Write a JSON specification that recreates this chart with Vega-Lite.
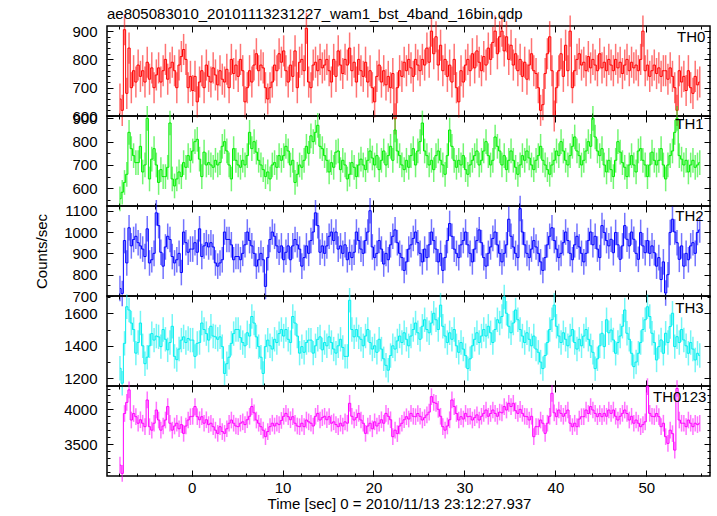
{
"$schema":"https://vega.github.io/schema/vega-lite/v6.json",
"padding":{"left":33,"top":6,"right":5,"bottom":2},
"bounds":"flush",
"spacing":0,
"datasets":{
"err":[{"b":"a","e":55},{"b":"b","e":53},{"b":"c","e":60},{"b":"d","e":75},{"b":"e","e":120}],
"lc":[
{"t":-7.875,"a":660,"b":555,"c":735,"d":1262,"e":3197},
{"t":-7.625,"a":620,"b":583,"c":712,"d":1170,"e":3077},
{"t":-7.375,"a":905,"b":625,"c":960,"d":1415,"e":3940},
{"t":-7.125,"a":680,"b":660,"c":855,"d":1640,"e":4100},
{"t":-6.875,"a":840,"b":840,"c":1020,"d":1620,"e":4280},
{"t":-6.625,"a":700,"b":770,"c":935,"d":1540,"e":3846},
{"t":-6.375,"a":760,"b":740,"c":965,"d":1500,"e":3940},
{"t":-6.125,"a":720,"b":710,"c":980,"d":1355,"e":3894},
{"t":-5.875,"a":780,"b":710,"c":950,"d":1420,"e":3800},
{"t":-5.625,"a":740,"b":780,"c":935,"d":1540,"e":3850},
{"t":-5.375,"a":760,"b":670,"c":920,"d":1400,"e":3800},
{"t":-5.125,"a":720,"b":700,"c":885,"d":1290,"e":3750},
{"t":-4.875,"a":790,"b":900,"c":1015,"d":1330,"e":4135},
{"t":-4.625,"a":730,"b":640,"c":855,"d":1400,"e":3750},
{"t":-4.375,"a":770,"b":725,"c":870,"d":1475,"e":3700},
{"t":-4.125,"a":700,"b":770,"c":900,"d":1435,"e":3800},
{"t":-3.875,"a":745,"b":700,"c":1090,"d":1460,"e":3990},
{"t":-3.625,"a":770,"b":625,"c":1030,"d":1455,"e":3846},
{"t":-3.375,"a":720,"b":680,"c":905,"d":1395,"e":3700},
{"t":-3.125,"a":760,"b":650,"c":840,"d":1500,"e":3760},
{"t":-2.875,"a":800,"b":650,"c":930,"d":1440,"e":3846},
{"t":-2.625,"a":730,"b":690,"c":980,"d":1375,"e":4040},
{"t":-2.375,"a":770,"b":880,"c":965,"d":1420,"e":3800},
{"t":-2.125,"a":790,"b":640,"c":885,"d":1520,"e":3700},
{"t":-1.875,"a":760,"b":610,"c":855,"d":1335,"e":3760},
{"t":-1.625,"a":700,"b":640,"c":870,"d":1315,"e":3800},
{"t":-1.375,"a":780,"b":670,"c":900,"d":1380,"e":3720},
{"t":-1.125,"a":810,"b":650,"c":810,"d":1435,"e":3780},
{"t":-0.875,"a":835,"b":710,"c":1000,"d":1455,"e":3654},
{"t":-0.625,"a":800,"b":690,"c":950,"d":1420,"e":3760},
{"t":-0.375,"a":700,"b":740,"c":905,"d":1445,"e":3846},
{"t":-0.125,"a":740,"b":720,"c":920,"d":1435,"e":3894},
{"t":0.125,"a":690,"b":760,"c":920,"d":1435,"e":3900},
{"t":0.375,"a":740,"b":800,"c":950,"d":1335,"e":4040},
{"t":0.625,"a":650,"b":810,"c":905,"d":1415,"e":3894},
{"t":0.875,"a":720,"b":725,"c":1015,"d":1420,"e":3850},
{"t":1.125,"a":760,"b":650,"c":885,"d":1540,"e":3894},
{"t":1.375,"a":700,"b":755,"c":935,"d":1500,"e":3800},
{"t":1.625,"a":780,"b":700,"c":950,"d":1475,"e":3850},
{"t":1.875,"a":740,"b":710,"c":930,"d":1435,"e":3780},
{"t":2.125,"a":720,"b":700,"c":950,"d":1520,"e":3800},
{"t":2.375,"a":770,"b":690,"c":930,"d":1460,"e":3750},
{"t":2.625,"a":745,"b":720,"c":855,"d":1455,"e":3700},
{"t":2.875,"a":710,"b":700,"c":840,"d":1440,"e":3654},
{"t":3.125,"a":760,"b":710,"c":855,"d":1455,"e":3750},
{"t":3.375,"a":730,"b":780,"c":870,"d":1395,"e":3680},
{"t":3.625,"a":720,"b":800,"c":1000,"d":1230,"e":3654},
{"t":3.875,"a":765,"b":760,"c":965,"d":1290,"e":3720},
{"t":4.125,"a":700,"b":700,"c":965,"d":1330,"e":3800},
{"t":4.375,"a":800,"b":640,"c":940,"d":1415,"e":3846},
{"t":4.625,"a":750,"b":770,"c":870,"d":1475,"e":3800},
{"t":4.875,"a":780,"b":720,"c":885,"d":1500,"e":3760},
{"t":5.125,"a":740,"b":700,"c":885,"d":1500,"e":3750},
{"t":5.375,"a":800,"b":690,"c":870,"d":1450,"e":3800},
{"t":5.625,"a":760,"b":720,"c":900,"d":1420,"e":3820},
{"t":5.875,"a":650,"b":700,"c":940,"d":1400,"e":3780},
{"t":6.125,"a":700,"b":740,"c":1000,"d":1480,"e":3850},
{"t":6.375,"a":760,"b":840,"c":960,"d":1460,"e":3900},
{"t":6.625,"a":720,"b":770,"c":935,"d":1580,"e":4040},
{"t":6.875,"a":780,"b":800,"c":900,"d":1540,"e":3950},
{"t":7.125,"a":820,"b":755,"c":840,"d":1455,"e":3846},
{"t":7.375,"a":760,"b":720,"c":870,"d":1395,"e":3800},
{"t":7.625,"a":780,"b":700,"c":900,"d":1330,"e":3750},
{"t":7.875,"a":770,"b":680,"c":870,"d":1230,"e":3700},
{"t":8.125,"a":700,"b":650,"c":745,"d":1395,"e":3606},
{"t":8.375,"a":660,"b":670,"c":880,"d":1435,"e":3680},
{"t":8.625,"a":700,"b":640,"c":965,"d":1400,"e":3750},
{"t":8.875,"a":720,"b":700,"c":1000,"d":1380,"e":3800},
{"t":9.125,"a":780,"b":710,"c":980,"d":1440,"e":3760},
{"t":9.375,"a":760,"b":690,"c":935,"d":1420,"e":3800},
{"t":9.625,"a":820,"b":740,"c":905,"d":1475,"e":3780},
{"t":9.875,"a":790,"b":720,"c":935,"d":1500,"e":3840},
{"t":10.125,"a":830,"b":740,"c":870,"d":1460,"e":3900},
{"t":10.375,"a":760,"b":780,"c":905,"d":1500,"e":3942},
{"t":10.625,"a":720,"b":760,"c":935,"d":1440,"e":3894},
{"t":10.875,"a":780,"b":700,"c":870,"d":1420,"e":3850},
{"t":11.125,"a":740,"b":720,"c":935,"d":1580,"e":3894},
{"t":11.375,"a":830,"b":625,"c":965,"d":1540,"e":3800},
{"t":11.625,"a":700,"b":660,"c":940,"d":1460,"e":3760},
{"t":11.875,"a":790,"b":700,"c":920,"d":1355,"e":3750},
{"t":12.125,"a":800,"b":690,"c":840,"d":1395,"e":3800},
{"t":12.375,"a":760,"b":720,"c":880,"d":1360,"e":3750},
{"t":12.625,"a":910,"b":780,"c":935,"d":1420,"e":3846},
{"t":12.875,"a":720,"b":750,"c":900,"d":1435,"e":3820},
{"t":13.125,"a":700,"b":825,"c":960,"d":1435,"e":3800},
{"t":13.375,"a":780,"b":800,"c":1000,"d":1355,"e":3760},
{"t":13.625,"a":790,"b":840,"c":1090,"d":1400,"e":3900},
{"t":13.875,"a":760,"b":870,"c":1030,"d":1440,"e":3942},
{"t":14.125,"a":800,"b":780,"c":905,"d":1455,"e":3846},
{"t":14.375,"a":770,"b":770,"c":935,"d":1375,"e":3880},
{"t":14.625,"a":780,"b":740,"c":900,"d":1420,"e":3900},
{"t":14.875,"a":800,"b":720,"c":935,"d":1400,"e":3850},
{"t":15.125,"a":760,"b":670,"c":980,"d":1455,"e":3894},
{"t":15.375,"a":720,"b":710,"c":1000,"d":1420,"e":3800},
{"t":15.625,"a":800,"b":690,"c":960,"d":1380,"e":3820},
{"t":15.875,"a":740,"b":755,"c":1000,"d":1355,"e":3780},
{"t":16.125,"a":830,"b":760,"c":920,"d":1400,"e":3750},
{"t":16.375,"a":780,"b":680,"c":935,"d":1440,"e":3800},
{"t":16.625,"a":750,"b":720,"c":900,"d":1390,"e":3760},
{"t":16.875,"a":800,"b":700,"c":940,"d":1335,"e":3820},
{"t":17.125,"a":780,"b":640,"c":870,"d":1335,"e":3800},
{"t":17.375,"a":840,"b":660,"c":905,"d":1680,"e":4087},
{"t":17.625,"a":760,"b":710,"c":880,"d":1500,"e":3900},
{"t":17.875,"a":790,"b":690,"c":905,"d":1455,"e":3846},
{"t":18.125,"a":720,"b":650,"c":1000,"d":1500,"e":3880},
{"t":18.375,"a":800,"b":700,"c":960,"d":1455,"e":3942},
{"t":18.625,"a":760,"b":725,"c":920,"d":1440,"e":3846},
{"t":18.875,"a":740,"b":700,"c":900,"d":1400,"e":3800},
{"t":19.125,"a":790,"b":680,"c":960,"d":1460,"e":3654},
{"t":19.375,"a":720,"b":720,"c":1000,"d":1500,"e":3760},
{"t":19.625,"a":760,"b":760,"c":1100,"d":1420,"e":3800},
{"t":19.875,"a":700,"b":730,"c":930,"d":1380,"e":3720},
{"t":20.125,"a":650,"b":700,"c":880,"d":1400,"e":3820},
{"t":20.375,"a":740,"b":740,"c":900,"d":1360,"e":3760},
{"t":20.625,"a":780,"b":680,"c":960,"d":1440,"e":3800},
{"t":20.875,"a":720,"b":720,"c":920,"d":1380,"e":3850},
{"t":21.125,"a":760,"b":760,"c":850,"d":1320,"e":3800},
{"t":21.375,"a":710,"b":700,"c":900,"d":1280,"e":3942},
{"t":21.625,"a":740,"b":740,"c":870,"d":1250,"e":3900},
{"t":21.875,"a":700,"b":780,"c":940,"d":1340,"e":3850},
{"t":22.125,"a":750,"b":720,"c":980,"d":1400,"e":3606},
{"t":22.375,"a":590,"b":850,"c":1010,"d":1380,"e":3700},
{"t":22.625,"a":700,"b":760,"c":950,"d":1430,"e":3650},
{"t":22.875,"a":760,"b":740,"c":900,"d":1460,"e":3760},
{"t":23.125,"a":740,"b":700,"c":880,"d":1420,"e":3800},
{"t":23.375,"a":790,"b":680,"c":820,"d":1480,"e":3850},
{"t":23.625,"a":760,"b":720,"c":860,"d":1440,"e":3894},
{"t":23.875,"a":800,"b":690,"c":920,"d":1400,"e":3860},
{"t":24.125,"a":770,"b":740,"c":940,"d":1460,"e":3942},
{"t":24.375,"a":740,"b":770,"c":970,"d":1500,"e":3900},
{"t":24.625,"a":800,"b":700,"c":1000,"d":1540,"e":3894},
{"t":24.875,"a":780,"b":760,"c":950,"d":1480,"e":3940},
{"t":25.125,"a":760,"b":800,"c":900,"d":1440,"e":3900},
{"t":25.375,"a":800,"b":880,"c":860,"d":1520,"e":3846},
{"t":25.625,"a":780,"b":760,"c":920,"d":1560,"e":3880},
{"t":25.875,"a":840,"b":740,"c":880,"d":1500,"e":3920},
{"t":26.125,"a":790,"b":700,"c":940,"d":1480,"e":3960},
{"t":26.375,"a":900,"b":720,"c":1000,"d":1540,"e":4183},
{"t":26.625,"a":820,"b":680,"c":960,"d":1600,"e":4100},
{"t":26.875,"a":880,"b":740,"c":920,"d":1560,"e":4087},
{"t":27.125,"a":780,"b":760,"c":860,"d":1500,"e":4000},
{"t":27.375,"a":850,"b":720,"c":900,"d":1650,"e":3900},
{"t":27.625,"a":760,"b":700,"c":820,"d":1520,"e":3750},
{"t":27.875,"a":800,"b":660,"c":880,"d":1460,"e":3700},
{"t":28.125,"a":740,"b":740,"c":960,"d":1420,"e":3760},
{"t":28.375,"a":780,"b":850,"c":1040,"d":1480,"e":3850},
{"t":28.625,"a":720,"b":780,"c":980,"d":1440,"e":4135},
{"t":28.875,"a":800,"b":720,"c":920,"d":1500,"e":4040},
{"t":29.125,"a":700,"b":690,"c":900,"d":1400,"e":3940},
{"t":29.375,"a":650,"b":720,"c":880,"d":1360,"e":3846},
{"t":29.625,"a":760,"b":700,"c":940,"d":1420,"e":3894},
{"t":29.875,"a":720,"b":740,"c":960,"d":1380,"e":3860},
{"t":30.125,"a":780,"b":680,"c":1000,"d":1340,"e":3942},
{"t":30.375,"a":800,"b":660,"c":940,"d":1260,"e":3894},
{"t":30.625,"a":760,"b":700,"c":900,"d":1320,"e":3900},
{"t":30.875,"a":820,"b":720,"c":860,"d":1400,"e":3846},
{"t":31.125,"a":770,"b":740,"c":920,"d":1440,"e":3880},
{"t":31.375,"a":830,"b":760,"c":960,"d":1480,"e":3920},
{"t":31.625,"a":790,"b":700,"c":1010,"d":1420,"e":3846},
{"t":31.875,"a":760,"b":720,"c":950,"d":1460,"e":3900},
{"t":32.125,"a":810,"b":760,"c":880,"d":1500,"e":3942},
{"t":32.375,"a":780,"b":800,"c":840,"d":1460,"e":3990},
{"t":32.625,"a":840,"b":740,"c":900,"d":1520,"e":3900},
{"t":32.875,"a":800,"b":700,"c":930,"d":1480,"e":3940},
{"t":33.125,"a":860,"b":720,"c":970,"d":1420,"e":3990},
{"t":33.375,"a":900,"b":820,"c":1000,"d":1500,"e":3942},
{"t":33.625,"a":820,"b":780,"c":940,"d":1560,"e":3900},
{"t":33.875,"a":880,"b":760,"c":900,"d":1540,"e":3960},
{"t":34.125,"a":900,"b":700,"c":860,"d":1580,"e":3950},
{"t":34.375,"a":830,"b":740,"c":900,"d":1700,"e":4040},
{"t":34.625,"a":880,"b":680,"c":940,"d":1600,"e":3990},
{"t":34.875,"a":800,"b":720,"c":1060,"d":1520,"e":4087},
{"t":35.125,"a":850,"b":760,"c":980,"d":1480,"e":4040},
{"t":35.375,"a":780,"b":720,"c":930,"d":1540,"e":4087},
{"t":35.625,"a":820,"b":690,"c":900,"d":1620,"e":3980},
{"t":35.875,"a":760,"b":660,"c":880,"d":1560,"e":3942},
{"t":36.125,"a":800,"b":700,"c":1110,"d":1500,"e":4000},
{"t":36.375,"a":740,"b":740,"c":1000,"d":1460,"e":3942},
{"t":36.625,"a":790,"b":720,"c":940,"d":1420,"e":3900},
{"t":36.875,"a":730,"b":760,"c":900,"d":1480,"e":3894},
{"t":37.125,"a":780,"b":730,"c":880,"d":1440,"e":3846},
{"t":37.375,"a":820,"b":700,"c":920,"d":1400,"e":3900},
{"t":37.625,"a":760,"b":680,"c":960,"d":1460,"e":3606},
{"t":37.875,"a":750,"b":720,"c":930,"d":1380,"e":3750},
{"t":38.125,"a":700,"b":740,"c":900,"d":1360,"e":3750},
{"t":38.375,"a":620,"b":780,"c":860,"d":1300,"e":3846},
{"t":38.625,"a":640,"b":720,"c":820,"d":1260,"e":3800},
{"t":38.875,"a":750,"b":700,"c":880,"d":1340,"e":3654},
{"t":39.125,"a":820,"b":680,"c":940,"d":1420,"e":3800},
{"t":39.375,"a":880,"b":660,"c":980,"d":1500,"e":3900},
{"t":39.625,"a":760,"b":700,"c":1020,"d":1560,"e":4231},
{"t":39.875,"a":600,"b":720,"c":960,"d":1650,"e":3950},
{"t":40.125,"a":700,"b":760,"c":920,"d":1520,"e":3894},
{"t":40.375,"a":760,"b":740,"c":880,"d":1460,"e":3990},
{"t":40.625,"a":820,"b":800,"c":900,"d":1420,"e":3942},
{"t":40.875,"a":740,"b":760,"c":950,"d":1480,"e":3900},
{"t":41.125,"a":850,"b":720,"c":1000,"d":1440,"e":3942},
{"t":41.375,"a":760,"b":700,"c":960,"d":1400,"e":3990},
{"t":41.625,"a":900,"b":740,"c":900,"d":1460,"e":3800},
{"t":41.875,"a":700,"b":780,"c":870,"d":1500,"e":3750},
{"t":42.125,"a":760,"b":820,"c":940,"d":1420,"e":3800},
{"t":42.375,"a":800,"b":760,"c":980,"d":1380,"e":3750},
{"t":42.625,"a":820,"b":740,"c":930,"d":1440,"e":3860},
{"t":42.875,"a":780,"b":700,"c":900,"d":1400,"e":3894},
{"t":43.125,"a":790,"b":720,"c":860,"d":1460,"e":3894},
{"t":43.375,"a":760,"b":760,"c":900,"d":1500,"e":3990},
{"t":43.625,"a":810,"b":800,"c":960,"d":1440,"e":3940},
{"t":43.875,"a":770,"b":780,"c":1000,"d":1400,"e":4040},
{"t":44.125,"a":800,"b":900,"c":940,"d":1360,"e":3990},
{"t":44.375,"a":780,"b":820,"c":980,"d":1260,"e":3942},
{"t":44.625,"a":760,"b":760,"c":920,"d":1320,"e":3894},
{"t":44.875,"a":820,"b":740,"c":880,"d":1400,"e":3940},
{"t":45.125,"a":770,"b":770,"c":1030,"d":1477,"e":3894},
{"t":45.375,"a":790,"b":700,"c":998,"d":1395,"e":3942},
{"t":45.625,"a":760,"b":670,"c":960,"d":1560,"e":3900},
{"t":45.875,"a":800,"b":720,"c":935,"d":1480,"e":3990},
{"t":46.125,"a":780,"b":680,"c":966,"d":1497,"e":3942},
{"t":46.375,"a":760,"b":650,"c":903,"d":1436,"e":3990},
{"t":46.625,"a":800,"b":720,"c":998,"d":1354,"e":3900},
{"t":46.875,"a":770,"b":800,"c":940,"d":1420,"e":3846},
{"t":47.125,"a":790,"b":755,"c":872,"d":1460,"e":3900},
{"t":47.375,"a":750,"b":710,"c":935,"d":1520,"e":3942},
{"t":47.625,"a":780,"b":690,"c":1030,"d":1620,"e":3990},
{"t":47.875,"a":800,"b":650,"c":966,"d":1477,"e":3940},
{"t":48.125,"a":760,"b":700,"c":935,"d":1440,"e":3846},
{"t":48.375,"a":790,"b":740,"c":1000,"d":1354,"e":3900},
{"t":48.625,"a":770,"b":700,"c":966,"d":1272,"e":3800},
{"t":48.875,"a":780,"b":670,"c":900,"d":1300,"e":3846},
{"t":49.125,"a":760,"b":760,"c":872,"d":1354,"e":3800},
{"t":49.375,"a":800,"b":770,"c":998,"d":1420,"e":3750},
{"t":49.625,"a":900,"b":720,"c":935,"d":1500,"e":3780},
{"t":49.875,"a":760,"b":700,"c":903,"d":1560,"e":3820},
{"t":50.125,"a":780,"b":650,"c":960,"d":1640,"e":4327},
{"t":50.375,"a":740,"b":700,"c":900,"d":1580,"e":3942},
{"t":50.625,"a":760,"b":755,"c":935,"d":1477,"e":3900},
{"t":50.875,"a":780,"b":720,"c":903,"d":1420,"e":3894},
{"t":51.125,"a":750,"b":700,"c":840,"d":1313,"e":3940},
{"t":51.375,"a":770,"b":720,"c":880,"d":1395,"e":3894},
{"t":51.625,"a":740,"b":770,"c":777,"d":1436,"e":3750},
{"t":51.875,"a":760,"b":700,"c":860,"d":1354,"e":3800},
{"t":52.125,"a":760,"b":640,"c":714,"d":1477,"e":3606},
{"t":52.375,"a":730,"b":700,"c":800,"d":1420,"e":3510},
{"t":52.625,"a":770,"b":740,"c":998,"d":1518,"e":3700},
{"t":52.875,"a":740,"b":760,"c":1060,"d":1600,"e":3650},
{"t":53.125,"a":700,"b":840,"c":1000,"d":1395,"e":3413},
{"t":53.375,"a":620,"b":900,"c":950,"d":1456,"e":4300},
{"t":53.625,"a":760,"b":740,"c":872,"d":1420,"e":3846},
{"t":53.875,"a":720,"b":725,"c":935,"d":1500,"e":3800},
{"t":54.125,"a":740,"b":700,"c":840,"d":1436,"e":3800},
{"t":54.375,"a":690,"b":720,"c":900,"d":1400,"e":3750},
{"t":54.625,"a":760,"b":670,"c":870,"d":1354,"e":3846},
{"t":54.875,"a":700,"b":700,"c":935,"d":1420,"e":3800},
{"t":55.125,"a":680,"b":720,"c":950,"d":1380,"e":3750},
{"t":55.375,"a":740,"b":690,"c":900,"d":1313,"e":3800},
{"t":55.625,"a":710,"b":700,"c":998,"d":1354,"e":3780},
{"t":55.875,"a":720,"b":710,"c":1010,"d":1340,"e":3800}
]},
"vconcat":[
{"width":603,"height":90,
 "title":{"text":"ae805083010_20101113231227_wam1_bst_4band_16bin.qdp","anchor":"start","frame":"group","font":"Liberation Sans","fontSize":15,"fontWeight":"normal","color":"#000","offset":-10},
 "data":{"name":"lc"},
 "transform":[{"fold":["a"],"as":["b","v"]},{"lookup":"b","from":{"data":{"name":"err"},"key":"b","fields":["e"]}}],
 "layer":[
  {"mark":{"type":"errorbar","color":"#ff0000","opacity":0.55,"thickness":1.5},
   "encoding":{"x":{"field":"t","type":"quantitative","scale":{"domain":[-9.3,57],"nice":false,"zero":false},"axis":{"orient":"bottom","title":null,"values":[0,10,20,30,40,50],"tickSize":-6}},
    "y":{"field":"v","type":"quantitative","scale":{"domain":[600,918],"nice":false,"zero":false},"axis":{"orient":"left","title":null,"format":"d","values":[600,700,800,900],"tickSize":-6,"labels":true,"labelPadding":16}},
    "yError":{"field":"e"}}},
  {"mark":{"type":"line","interpolate":"step","color":"#ff0000","strokeWidth":1},
   "encoding":{"x":{"field":"t","type":"quantitative","scale":{"domain":[-9.3,57],"nice":false,"zero":false},"axis":{"orient":"top","title":null,"values":[0,10,20,30,40,50],"tickSize":-6}},
    "y":{"field":"v","type":"quantitative","scale":{"domain":[600,918],"nice":false,"zero":false},"axis":{"orient":"right","title":null,"values":[600,700,800,900],"tickSize":-6}}}},
  {"mark":{"type":"line","opacity":0},
   "encoding":{"x":{"field":"t","type":"quantitative","axis":{"orient":"bottom","title":null,"values":[-8,-6,-4,-2,0,2,4,6,8,10,12,14,16,18,20,22,24,26,28,30,32,34,36,38,40,42,44,46,48,50,52,54,56],"tickSize":-3}},
    "y":{"field":"v","type":"quantitative","axis":{"orient":"left","title":null,"values":[600,620,640,660,680,700,720,740,760,780,800,820,840,860,880,900],"tickSize":-3}}}},
  {"mark":{"type":"line","opacity":0},
   "encoding":{"x":{"field":"t","type":"quantitative","axis":{"orient":"top","title":null,"values":[-8,-6,-4,-2,0,2,4,6,8,10,12,14,16,18,20,22,24,26,28,30,32,34,36,38,40,42,44,46,48,50,52,54,56],"tickSize":-3}},
    "y":{"field":"v","type":"quantitative","axis":{"orient":"right","title":null,"values":[600,620,640,660,680,700,720,740,760,780,800,820,840,860,880,900],"tickSize":-3}}}},
  {"data":{"values":[{"lab":"TH0"}]},
   "mark":{"type":"text","align":"right","baseline":"alphabetic","font":"Liberation Sans","fontSize":15,"color":"#000"},
   "encoding":{"x":{"datum":56.5,"type":"quantitative","axis":null},"y":{"datum":862,"type":"quantitative","axis":null},"text":{"field":"lab"}}}
 ],
 "resolve":{"axis":{"x":"independent","y":"independent"}}
},
{"width":603,"height":90,
 "data":{"name":"lc"},
 "transform":[{"fold":["b"],"as":["b","v"]},{"lookup":"b","from":{"data":{"name":"err"},"key":"b","fields":["e"]}}],
 "layer":[
  {"mark":{"type":"errorbar","color":"#00ee00","opacity":0.55,"thickness":1.5},
   "encoding":{"x":{"field":"t","type":"quantitative","scale":{"domain":[-9.3,57],"nice":false,"zero":false},"axis":{"orient":"bottom","title":null,"values":[0,10,20,30,40,50],"tickSize":-6}},
    "y":{"field":"v","type":"quantitative","scale":{"domain":[524,910],"nice":false,"zero":false},"axis":{"orient":"left","title":null,"format":"d","values":[600,700,800,900],"tickSize":-6,"labels":true,"labelPadding":16}},
    "yError":{"field":"e"}}},
  {"mark":{"type":"line","interpolate":"step","color":"#00ee00","strokeWidth":1},
   "encoding":{"x":{"field":"t","type":"quantitative","scale":{"domain":[-9.3,57],"nice":false,"zero":false},"axis":{"orient":"top","title":null,"values":[0,10,20,30,40,50],"tickSize":-6}},
    "y":{"field":"v","type":"quantitative","scale":{"domain":[524,910],"nice":false,"zero":false},"axis":{"orient":"right","title":null,"values":[600,700,800,900],"tickSize":-6}}}},
  {"mark":{"type":"line","opacity":0},
   "encoding":{"x":{"field":"t","type":"quantitative","axis":{"orient":"bottom","title":null,"values":[-8,-6,-4,-2,0,2,4,6,8,10,12,14,16,18,20,22,24,26,28,30,32,34,36,38,40,42,44,46,48,50,52,54,56],"tickSize":-3}},
    "y":{"field":"v","type":"quantitative","axis":{"orient":"left","title":null,"values":[550,600,650,700,750,800,850,900],"tickSize":-3}}}},
  {"mark":{"type":"line","opacity":0},
   "encoding":{"x":{"field":"t","type":"quantitative","axis":{"orient":"top","title":null,"values":[-8,-6,-4,-2,0,2,4,6,8,10,12,14,16,18,20,22,24,26,28,30,32,34,36,38,40,42,44,46,48,50,52,54,56],"tickSize":-3}},
    "y":{"field":"v","type":"quantitative","axis":{"orient":"right","title":null,"values":[550,600,650,700,750,800,850,900],"tickSize":-3}}}},
  {"data":{"values":[{"lab":"TH1"}]},
   "mark":{"type":"text","align":"right","baseline":"alphabetic","font":"Liberation Sans","fontSize":15,"color":"#000"},
   "encoding":{"x":{"datum":56.3,"type":"quantitative","axis":null},"y":{"datum":854,"type":"quantitative","axis":null},"text":{"field":"lab"}}}
 ],
 "resolve":{"axis":{"x":"independent","y":"independent"}}
},
{"width":603,"height":90,
 "data":{"name":"lc"},
 "transform":[{"fold":["c"],"as":["b","v"]},{"lookup":"b","from":{"data":{"name":"err"},"key":"b","fields":["e"]}}],
 "layer":[
  {"mark":{"type":"errorbar","color":"#0000ff","opacity":0.55,"thickness":1.5},
   "encoding":{"x":{"field":"t","type":"quantitative","scale":{"domain":[-9.3,57],"nice":false,"zero":false},"axis":{"orient":"bottom","title":null,"values":[0,10,20,30,40,50],"tickSize":-6}},
    "y":{"field":"v","type":"quantitative","scale":{"domain":[700,1122],"nice":false,"zero":false},"axis":{"orient":"left","title":"Counts/sec","titlePadding":14,"format":"d","values":[700,800,900,1000,1100],"tickSize":-6,"labels":true,"labelPadding":16}},
    "yError":{"field":"e"}}},
  {"mark":{"type":"line","interpolate":"step","color":"#0000ff","strokeWidth":1},
   "encoding":{"x":{"field":"t","type":"quantitative","scale":{"domain":[-9.3,57],"nice":false,"zero":false},"axis":{"orient":"top","title":null,"values":[0,10,20,30,40,50],"tickSize":-6}},
    "y":{"field":"v","type":"quantitative","scale":{"domain":[700,1122],"nice":false,"zero":false},"axis":{"orient":"right","title":null,"values":[700,800,900,1000,1100],"tickSize":-6}}}},
  {"mark":{"type":"line","opacity":0},
   "encoding":{"x":{"field":"t","type":"quantitative","axis":{"orient":"bottom","title":null,"values":[-8,-6,-4,-2,0,2,4,6,8,10,12,14,16,18,20,22,24,26,28,30,32,34,36,38,40,42,44,46,48,50,52,54,56],"tickSize":-3}},
    "y":{"field":"v","type":"quantitative","axis":{"orient":"left","title":null,"values":[700,750,800,850,900,950,1000,1050,1100],"tickSize":-3}}}},
  {"mark":{"type":"line","opacity":0},
   "encoding":{"x":{"field":"t","type":"quantitative","axis":{"orient":"top","title":null,"values":[-8,-6,-4,-2,0,2,4,6,8,10,12,14,16,18,20,22,24,26,28,30,32,34,36,38,40,42,44,46,48,50,52,54,56],"tickSize":-3}},
    "y":{"field":"v","type":"quantitative","axis":{"orient":"right","title":null,"values":[700,750,800,850,900,950,1000,1050,1100],"tickSize":-3}}}},
  {"data":{"values":[{"lab":"TH2"}]},
   "mark":{"type":"text","align":"right","baseline":"alphabetic","font":"Liberation Sans","fontSize":15,"color":"#000"},
   "encoding":{"x":{"datum":56.3,"type":"quantitative","axis":null},"y":{"datum":1051,"type":"quantitative","axis":null},"text":{"field":"lab"}}}
 ],
 "resolve":{"axis":{"x":"independent","y":"independent"}}
},
{"width":603,"height":90,
 "data":{"name":"lc"},
 "transform":[{"fold":["d"],"as":["b","v"]},{"lookup":"b","from":{"data":{"name":"err"},"key":"b","fields":["e"]}}],
 "layer":[
  {"mark":{"type":"errorbar","color":"#00eeee","opacity":0.55,"thickness":1.5},
   "encoding":{"x":{"field":"t","type":"quantitative","scale":{"domain":[-9.3,57],"nice":false,"zero":false},"axis":{"orient":"bottom","title":null,"values":[0,10,20,30,40,50],"tickSize":-6}},
    "y":{"field":"v","type":"quantitative","scale":{"domain":[1153,1706],"nice":false,"zero":false},"axis":{"orient":"left","title":null,"format":"d","values":[1200,1400,1600],"tickSize":-6,"labels":true,"labelPadding":16}},
    "yError":{"field":"e"}}},
  {"mark":{"type":"line","interpolate":"step","color":"#00eeee","strokeWidth":1},
   "encoding":{"x":{"field":"t","type":"quantitative","scale":{"domain":[-9.3,57],"nice":false,"zero":false},"axis":{"orient":"top","title":null,"values":[0,10,20,30,40,50],"tickSize":-6}},
    "y":{"field":"v","type":"quantitative","scale":{"domain":[1153,1706],"nice":false,"zero":false},"axis":{"orient":"right","title":null,"values":[1200,1400,1600],"tickSize":-6}}}},
  {"mark":{"type":"line","opacity":0},
   "encoding":{"x":{"field":"t","type":"quantitative","axis":{"orient":"bottom","title":null,"values":[-8,-6,-4,-2,0,2,4,6,8,10,12,14,16,18,20,22,24,26,28,30,32,34,36,38,40,42,44,46,48,50,52,54,56],"tickSize":-3}},
    "y":{"field":"v","type":"quantitative","axis":{"orient":"left","title":null,"values":[1200,1300,1400,1500,1600,1700],"tickSize":-3}}}},
  {"mark":{"type":"line","opacity":0},
   "encoding":{"x":{"field":"t","type":"quantitative","axis":{"orient":"top","title":null,"values":[-8,-6,-4,-2,0,2,4,6,8,10,12,14,16,18,20,22,24,26,28,30,32,34,36,38,40,42,44,46,48,50,52,54,56],"tickSize":-3}},
    "y":{"field":"v","type":"quantitative","axis":{"orient":"right","title":null,"values":[1200,1300,1400,1500,1600,1700],"tickSize":-3}}}},
  {"data":{"values":[{"lab":"TH3"}]},
   "mark":{"type":"text","align":"right","baseline":"alphabetic","font":"Liberation Sans","fontSize":15,"color":"#000"},
   "encoding":{"x":{"datum":56.3,"type":"quantitative","axis":null},"y":{"datum":1602,"type":"quantitative","axis":null},"text":{"field":"lab"}}}
 ],
 "resolve":{"axis":{"x":"independent","y":"independent"}}
},
{"width":603,"height":90,
 "data":{"name":"lc"},
 "transform":[{"fold":["e"],"as":["b","v"]},{"lookup":"b","from":{"data":{"name":"err"},"key":"b","fields":["e"]}}],
 "layer":[
  {"mark":{"type":"errorbar","color":"#ff00ff","opacity":0.55,"thickness":1.5},
   "encoding":{"x":{"field":"t","type":"quantitative","scale":{"domain":[-9.3,57],"nice":false,"zero":false},"axis":{"orient":"bottom","title":"Time [sec] 0 = 2010/11/13 23:12:27.937","titlePadding":1,"titleX":292,"values":[0,10,20,30,40,50],"tickSize":-6,"labels":true,"labelPadding":10,"labelFlush":false}},
    "y":{"field":"v","type":"quantitative","scale":{"domain":[3040,4336],"nice":false,"zero":false},"axis":{"orient":"left","title":null,"format":"d","values":[3500,4000],"tickSize":-6,"labels":true,"labelPadding":16}},
    "yError":{"field":"e"}}},
  {"mark":{"type":"line","interpolate":"step","color":"#ff00ff","strokeWidth":1},
   "encoding":{"x":{"field":"t","type":"quantitative","scale":{"domain":[-9.3,57],"nice":false,"zero":false},"axis":{"orient":"top","title":null,"values":[0,10,20,30,40,50],"tickSize":-6}},
    "y":{"field":"v","type":"quantitative","scale":{"domain":[3040,4336],"nice":false,"zero":false},"axis":{"orient":"right","title":null,"values":[3500,4000],"tickSize":-6}}}},
  {"mark":{"type":"line","opacity":0},
   "encoding":{"x":{"field":"t","type":"quantitative","axis":{"orient":"bottom","title":null,"values":[-8,-6,-4,-2,0,2,4,6,8,10,12,14,16,18,20,22,24,26,28,30,32,34,36,38,40,42,44,46,48,50,52,54,56],"tickSize":-3}},
    "y":{"field":"v","type":"quantitative","axis":{"orient":"left","title":null,"values":[3100,3200,3300,3400,3500,3600,3700,3800,3900,4000,4100,4200,4300],"tickSize":-3}}}},
  {"mark":{"type":"line","opacity":0},
   "encoding":{"x":{"field":"t","type":"quantitative","axis":{"orient":"top","title":null,"values":[-8,-6,-4,-2,0,2,4,6,8,10,12,14,16,18,20,22,24,26,28,30,32,34,36,38,40,42,44,46,48,50,52,54,56],"tickSize":-3}},
    "y":{"field":"v","type":"quantitative","axis":{"orient":"right","title":null,"values":[3100,3200,3300,3400,3500,3600,3700,3800,3900,4000,4100,4200,4300],"tickSize":-3}}}},
  {"data":{"values":[{"lab":"TH0123"}]},
   "mark":{"type":"text","align":"right","baseline":"alphabetic","font":"Liberation Sans","fontSize":15,"color":"#000"},
   "encoding":{"x":{"datum":56.6,"type":"quantitative","axis":null},"y":{"datum":4105,"type":"quantitative","axis":null},"text":{"field":"lab"}}}
 ],
 "resolve":{"axis":{"x":"independent","y":"independent"}}
}
],
"config":{
 "view":{"stroke":"#000","strokeWidth":1.5},
 "axis":{"domain":false,"grid":false,"labels":false,"tickColor":"#000","tickWidth":1,"labelFont":"Liberation Sans","labelFontSize":15,"labelColor":"#000","titleFont":"Liberation Sans","titleFontSize":15,"titleFontWeight":"normal","titleColor":"#000"}
}
}
